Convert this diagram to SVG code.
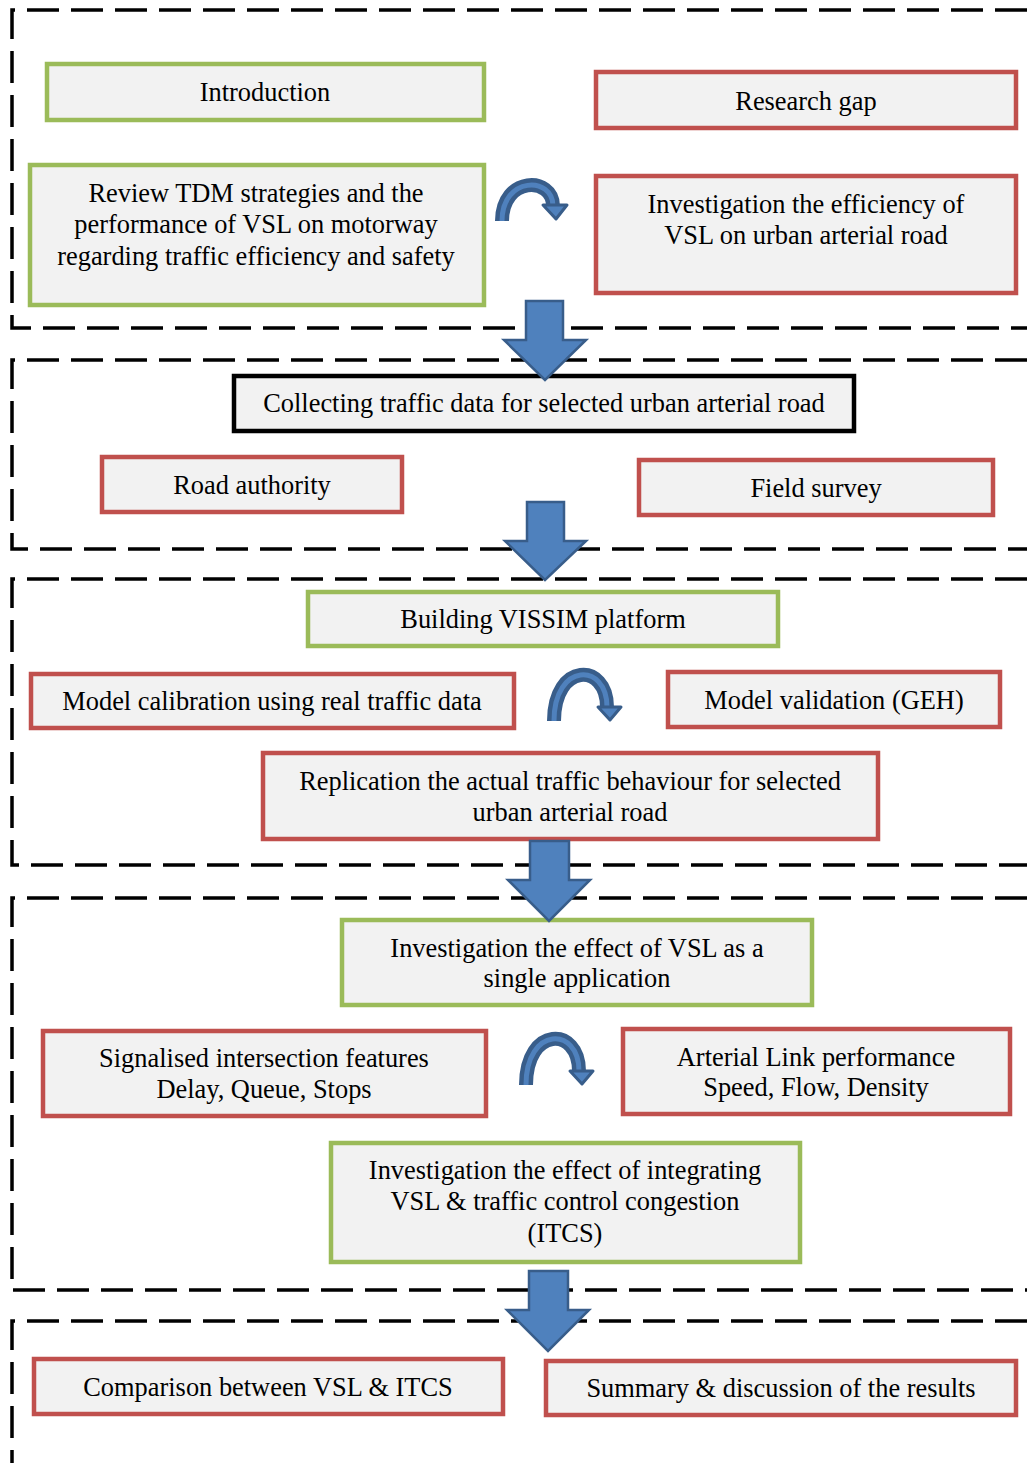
<svg xmlns="http://www.w3.org/2000/svg" width="1027" height="1463" viewBox="0 0 1027 1463">
  <style>
    .frame { fill: none; stroke: #000; stroke-width: 3.5; stroke-dasharray: 32 12; }
    .box { fill: #F2F2F2; stroke-width: 4.5; }
    .green { stroke: #9BBB59; }
    .red { stroke: #C0504D; }
    .black { stroke: #000; }
    text { font-family: "Liberation Serif", "Times New Roman", serif; font-size: 26.4px; fill: #000; text-anchor: middle; }
    .block { fill: #4F81BD; stroke: #385D8A; stroke-width: 2.5; stroke-linejoin: miter; }
    .arc-out { fill: none; stroke: #385D8A; stroke-width: 14; }
    .arc-in { fill: none; stroke: #4F81BD; stroke-width: 5; }
    .head { fill: #4F81BD; stroke: #385D8A; stroke-width: 3; stroke-linejoin: round; }
  </style>

  <!-- dashed phase frames (open on the right) -->
  <g id="frames">
    <path class="frame" d="M1027,10 H12 V328 H1027"/>
    <path class="frame" d="M1027,360 H12 V549 H1027"/>
    <path class="frame" d="M1027,579 H12 V865 H1027"/>
    <path class="frame" d="M1027,898 H12 V1290 H1027"/>
    <path class="frame" d="M1027,1321 H12 V1463"/>
  </g>

  <g id="n-introduction">
    <rect class="box green" x="47" y="64" width="437" height="56"/>
    <text x="265" y="101">Introduction</text>
  </g>
  <g id="n-research-gap">
    <rect class="box red" x="596" y="72" width="420" height="56"/>
    <text x="806" y="110">Research gap</text>
  </g>
  <g id="n-review">
    <rect class="box green" x="30" y="165" width="454" height="140"/>
    <text x="256" y="202">Review TDM strategies and the</text>
    <text x="256" y="233">performance of VSL on motorway</text>
    <text x="256" y="265">regarding traffic efficiency and safety</text>
  </g>
  <g id="n-efficiency">
    <rect class="box red" x="596" y="176" width="420" height="117"/>
    <text x="806" y="213">Investigation the efficiency of</text>
    <text x="806" y="244">VSL on urban arterial road</text>
  </g>
  <g id="n-collecting">
    <rect class="box black" x="234" y="376" width="620" height="55"/>
    <text x="544" y="412">Collecting traffic data for selected urban arterial road</text>
  </g>
  <g id="n-road-authority">
    <rect class="box red" x="102" y="457" width="300" height="55"/>
    <text x="252" y="494">Road authority</text>
  </g>
  <g id="n-field-survey">
    <rect class="box red" x="639" y="460" width="354" height="55"/>
    <text x="816" y="497">Field survey</text>
  </g>
  <g id="n-vissim">
    <rect class="box green" x="308" y="592" width="470" height="54"/>
    <text x="543" y="628">Building VISSIM platform</text>
  </g>
  <g id="n-calibration">
    <rect class="box red" x="31" y="674" width="483" height="54"/>
    <text x="272" y="710">Model calibration using real traffic data</text>
  </g>
  <g id="n-validation">
    <rect class="box red" x="668" y="672" width="332" height="55"/>
    <text x="834" y="709">Model validation (GEH)</text>
  </g>
  <g id="n-replication">
    <rect class="box red" x="263" y="753" width="615" height="86"/>
    <text x="570" y="790">Replication the actual traffic behaviour for selected</text>
    <text x="570" y="821">urban arterial road</text>
  </g>
  <g id="n-single">
    <rect class="box green" x="342" y="920" width="470" height="85"/>
    <text x="577" y="957">Investigation the effect of VSL as a</text>
    <text x="577" y="987">single application</text>
  </g>
  <g id="n-signalised">
    <rect class="box red" x="43" y="1031" width="443" height="85"/>
    <text x="264" y="1067">Signalised intersection features</text>
    <text x="264" y="1098">Delay, Queue, Stops</text>
  </g>
  <g id="n-arterial">
    <rect class="box red" x="623" y="1029" width="387" height="85"/>
    <text x="816" y="1066">Arterial Link performance</text>
    <text x="816" y="1096">Speed, Flow, Density</text>
  </g>
  <g id="n-itcs">
    <rect class="box green" x="331" y="1143" width="469" height="119"/>
    <text x="565" y="1179">Investigation the effect of integrating</text>
    <text x="565" y="1210">VSL &amp; traffic control congestion</text>
    <text x="565" y="1242">(ITCS)</text>
  </g>
  <g id="n-comparison">
    <rect class="box red" x="34" y="1359" width="469" height="55"/>
    <text x="268" y="1396">Comparison between VSL &amp; ITCS</text>
  </g>
  <g id="n-summary">
    <rect class="box red" x="546" y="1361" width="470" height="54"/>
    <text x="781" y="1397">Summary &amp; discussion of the results</text>
  </g>

  <g id="connectors">
    <!-- block arrows between phases -->
    <polygon class="block" points="526,301 563,301 563,340 586,340 545,380 504,340 526,340"/>
    <polygon class="block" points="527,502 564,502 564,541 586,541 545,580 505,541 527,541"/>
    <polygon class="block" points="530,841 569,841 569,880 590,880 549,921 508,880 530,880"/>
    <polygon class="block" points="529,1271 568,1271 568,1310 589,1310 548,1351 507,1310 529,1310"/>

    <!-- curved cycle arrows -->
    <g id="cycle-1">
      <path class="arc-out" d="M502,221 C502,176 553,176 553,206"/>
      <path class="arc-in" d="M502,221 C502,176 553,176 553,206"/>
      <polygon class="head" points="543,205 567,205 556,219"/>
    </g>
    <g id="cycle-2">
      <path class="arc-out" d="M554,721 C554,662 607,662 607,707"/>
      <path class="arc-in" d="M554,721 C554,662 607,662 607,707"/>
      <polygon class="head" points="598,707 621,707 610,720"/>
    </g>
    <g id="cycle-3">
      <path class="arc-out" d="M526,1085 C526,1026 579,1026 579,1071"/>
      <path class="arc-in" d="M526,1085 C526,1026 579,1026 579,1071"/>
      <polygon class="head" points="570,1071 593,1071 582,1084"/>
    </g>
  </g>
</svg>
